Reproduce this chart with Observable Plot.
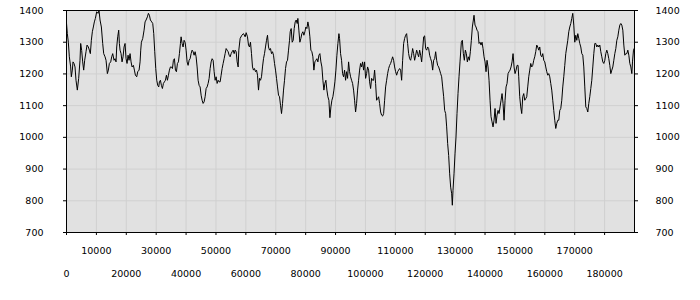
<!DOCTYPE html>
<html><head><meta charset="utf-8">
<script src="https://cdn.jsdelivr.net/npm/d3@7"></script>
<script src="https://cdn.jsdelivr.net/npm/@observablehq/plot@0.6"></script>
<style>body{margin:0;background:#fff}</style>
</head><body><div id="chart"></div>
<script>
const xs = [0,279,614,949,1395,1618,1953,2176,2511,2846,3181,3627,4073,4520,4743,5078,5413,5747,6082,6529,6863,7310,7645,7979,8314,8649,8984,9319,9653,10100,10546,10881,11216,11662,12109,12443,12890,13225,13671,14006,14341,14787,15122,15457,15903,16238,16573,16796,17131,17465,17689,17912,18247,18581,18916,19251,19586,19921,20256,20591,20925,21260,21595,21930,22376,22711,23046,23492,23827,24273,24608,24831,25054,25501,25947,26282,26617,27063,27398,27733,28067,28514,28849,29183,29518,29853,30188,30523,30857,31081,31415,31750,32085,32420,32755,33089,33424,33759,34094,34429,34763,35098,35433,35768,36103,36437,36772,37107,37442,37777,38111,38335,38669,39004,39339,39674,40009,40343,40678,41013,41348,41683,42017,42352,42687,43022,43357,43691,44026,44361,44696,45031,45365,45700,46035,46370,46705,47039,47374,47709,48044,48379,48713,49048,49383,49718,50053,50387,50722,51057,51392,51727,52061,52396,52731,53066,53401,53735,54070,54405,54740,55075,55409,55744,56079,56414,56749,57083,57418,
57642,58088,58646,59204,59762,60097,60543,60878,61213,61548,61883,62217,62552,62887,63222,63557,63891,64226,64561,64896,65231,65565,65900,66235,66570,66905,67239,67574,67909,68244,68579,68913,69248,69583,69918,70253,70587,70922,71257,71592,71927,72261,72596,72931,73266,73601,73935,74270,74605,74828,75163,75498,75833,76168,76502,76837,77172,77395,77730,78065,78400,78734,79069,79404,79739,80074,80408,80743,81078,81413,81748,82082,82417,82752,83087,83422,83756,84091,84426,84761,85096,85430,85765,86100,86435,86770,87104,87439,87774,88109,88444,88778,89113,89448,89783,90118,90452,90787,91122,91345,91680,92015,92350,92684,93019,93354,93689,94024,94358,94693,95028,95363,95698,96032,96367,96702,97037,97372,97706,98041,98376,98711,99046,99380,99715,100050,100385,100720,101054,101389,101724,102059,102394,102728,103063,103398,103733,104068,104402,104737,105072,105407,105742,106076,106411,106746,107081,107416,107750,108085,108420,108755,109090,109424,109759,110094,110429,110764,111098,111433,111768,112103,112438,112772,113107,113442,113777,114112,114446,114781,115116,115451,115786,116120,116455,116790,117125,117460,117794,118129,118464,118799,119134,119468,119803,120138,120473,120808,121142,121477,121812,122147,122482,122816,123151,123486,123821,124156,124490,124825,125160,125495,125830,126164,126499,126834,127169,127504,127838,128173,128508,128843,129066,129289,129624,129959,130294,130628,130963,131298,131633,
132079,132414,132749,133084,133419,133753,134088,134423,134758,135093,135427,135762,136097,136320,136655,136990,137325,137659,137994,138329,138664,138999,139333,139668,140003,140338,140673,141007,141342,141677,142012,142347,142681,143016,143351,143686,144021,144355,144690,145025,145360,145695,146029,146364,146699,147034,147369,147703,148038,148373,148708,149043,149377,149712,150047,150382,150717,151051,151275,151609,151944,152279,152614,152949,153283,153618,153953,154288,154623,154957,155292,155627,155962,156297,156631,156966,157301,157636,157971,158305,158640,158975,159310,159645,159979,160314,160649,160984,161319,161653,161988,162323,162658,162993,163327,163662,163997,164332,164667,165001,165336,165671,166006,166341,166675,167010,167345,167680,168015,168349,168684,169019,169354,169689,170023,170358,170693,171028,171363,171697,172032,172367,172702,173037,173371,173706,174041,174376,174711,175045,175380,175715,176050,176385,176719,177054,177389,177724,178059,178393,178728,179063,179398,179733,180067,180402,180737,181072,181407,181741,182076,182411,182746,183081,183415,183750,184085,184420,184755,185089,185424,185759,186094,186429,186763,187098,187433,187768,188103,188437,188772,189107,189330,189665,189888];
const vs = [1360,1327,1300,1254,1222,1191,1212,1238,1233,1222,1180,1149,1186,1243,1296,1274,1238,1212,1243,1270,1291,1285,1275,1264,1306,1333,1348,1364,1375,1396,1391,1400,1370,1348,1296,1264,1254,1243,1201,1212,1233,1238,1254,1264,1243,1248,1238,1285,1317,1338,1296,1275,1264,1238,1254,1285,1296,1248,1233,1259,1243,1264,1238,1222,1227,1212,1196,1191,1207,1212,1238,1275,1300,1312,1338,1364,1370,1380,1391,1385,1370,1364,1359,1327,1270,1217,1180,1164,1159,1175,1180,1164,1154,1170,1175,1180,1196,1180,1196,1212,1222,1222,1217,1243,1248,1212,1207,1233,1238,1264,1296,1317,1296,1285,1306,1300,1275,1238,1227,1243,1248,1264,1275,1270,1259,1270,1254,1222,1180,1164,1159,1133,1117,1107,1112,1128,1154,1159,1170,1186,1217,1238,1248,1243,1207,1180,1191,1170,1180,1175,1175,1196,1217,1233,1248,1264,1280,1275,1270,1259,1254,1264,1270,1275,1264,1275,1270,1238,1222,
1275,1312,1322,1327,1317,1330,1317,1291,1285,1300,1264,1222,1212,1217,1207,1212,1196,1149,1186,1180,1191,1222,1248,1264,1285,1306,1322,1285,1275,1280,1264,1270,1259,1233,1212,1186,1159,1133,1128,1101,1075,1107,1149,1180,1217,1238,1243,1275,1306,1333,1343,1300,1306,1343,1364,1370,1359,1375,1338,1300,1312,1327,1333,1322,1333,1348,1343,1364,1348,1317,1275,1270,1254,1212,1238,1243,1248,1238,1259,1264,1238,1222,1180,1149,1170,1180,1149,1128,1117,1062,1096,1117,1128,1149,1175,1212,1259,1296,1327,1312,1264,1243,1201,1191,1212,1180,1207,1186,1238,1207,1191,1180,1170,1149,1117,1080,1107,1149,1180,1212,1233,1222,1238,1212,1238,1186,1201,1222,1212,1175,1154,1186,1180,1180,1212,1170,1117,1122,1128,1107,1080,1070,1067,1075,1117,1159,1180,1201,1217,1227,1233,1243,1254,1243,1222,1207,1196,1207,1212,1217,1212,1180,1243,1296,1312,1322,1327,1296,1264,1248,1243,1259,1280,1264,1243,1259,1275,1264,1254,1275,1259,1238,1275,1317,1320,1280,1275,1285,1280,1259,1248,1238,1212,1243,1248,1270,1243,1227,1222,1212,1201,1191,1159,1128,1085,1075,1033,980,943,885,843,822,786,833,885,948,1001,1075,1138,1191,1238,
1300,1306,1264,1243,1275,1264,1238,1254,1243,1270,1306,1348,1370,1385,1354,1348,1338,1333,1296,1300,1291,1300,1280,1254,1238,1207,1243,1222,1180,1117,1065,1049,1033,1054,1091,1044,1070,1085,1075,1096,1117,1138,1107,1054,1117,1159,1170,1201,1207,1212,1222,1238,1264,1222,1201,1212,1227,1227,1191,1128,1096,1075,1128,1138,1117,1122,1128,1159,1191,1212,1233,1222,1227,1243,1254,1270,1291,1285,1275,1285,1259,1254,1264,1243,1238,1222,1207,1196,1201,1191,1170,1149,1117,1085,1054,1028,1044,1054,1054,1085,1091,1117,1159,1191,1227,1264,1285,1306,1333,1348,1359,1375,1391,1354,1300,1322,1306,1327,1312,1296,1285,1264,1259,1222,1159,1096,1091,1080,1107,1128,1154,1180,1222,1264,1296,1296,1285,1291,1285,1291,1270,1254,1238,1233,1243,1264,1275,1264,1248,1227,1201,1212,1222,1243,1264,1280,1306,1317,1338,1354,1359,1354,1338,1291,1259,1264,1264,1275,1259,1233,1222,1201,1238,1275,1280];
const oddTicks = [10000,30000,50000,70000,90000,110000,130000,150000,170000];
const evenTicks = [0,20000,40000,60000,80000,100000,120000,140000,160000,180000];
const yTicks = [700,800,900,1000,1100,1200,1300,1400];
const allTicks = evenTicks.concat(oddTicks).sort((a,b)=>a-b);
const data = xs.map((x,i)=>({x, v: vs[i]}));
const fmt = d => String(d);
const chart = Plot.plot({
  width:700, height:300,
  marginLeft:66, marginRight:66, marginTop:10, marginBottom:68,
  style:{fontFamily:"DejaVu Sans", fontSize:"9.5px", color:"#000", background:"#fff"},
  x:{domain:[0,190000]},
  y:{domain:[700,1400]},
  marks:[
    Plot.frame({fill:"#e1e1e1"}),
    Plot.gridX(allTicks,{stroke:"#d0d0d0", strokeOpacity:1}),
    Plot.gridY(yTicks,{stroke:"#d0d0d0", strokeOpacity:1}),
    Plot.line(data,{x:"x", y:"v", stroke:"#000", strokeWidth:1}),
    Plot.frame({stroke:"#000"}),
    Plot.axisX(allTicks,{tickSize:3, tickFormat:()=>"", label:null}),
    Plot.axisX(oddTicks,{tickSize:0, tickPadding:15, tickFormat:fmt, label:null}),
    Plot.axisX(evenTicks,{tickSize:0, tickPadding:38, tickFormat:fmt, label:null}),
    Plot.axisY(yTicks,{anchor:"left", tickSize:3, tickPadding:20, tickFormat:fmt, label:null}),
    Plot.axisY(yTicks,{anchor:"right", tickSize:3, tickPadding:18, tickFormat:fmt, label:null})
  ]
});
document.getElementById("chart").appendChild(chart);
</script>
</body></html>
